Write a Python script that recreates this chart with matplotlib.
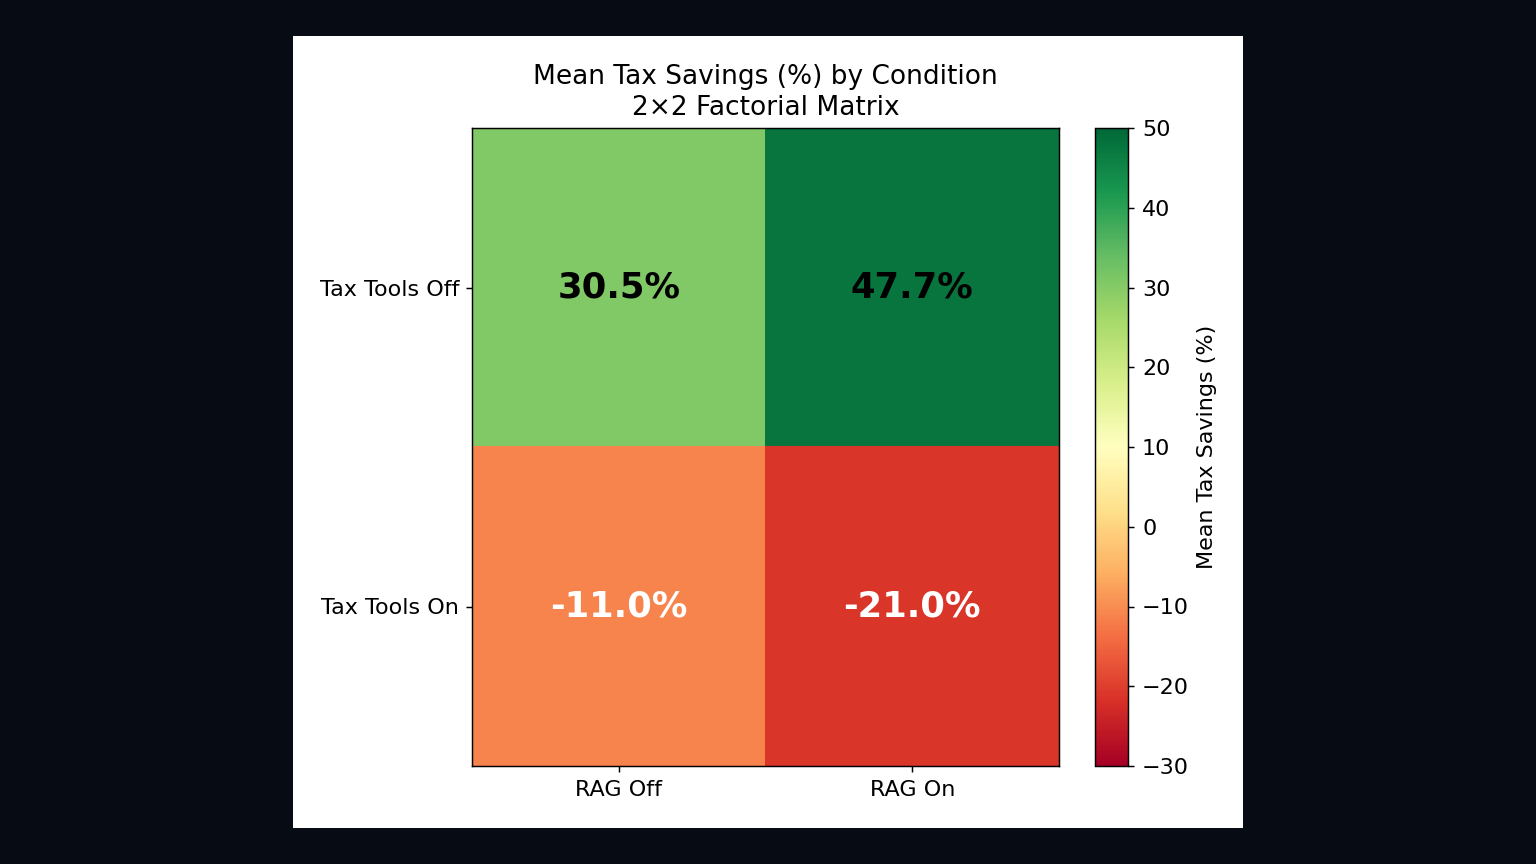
import numpy as np
import matplotlib
matplotlib.use("Agg")
import matplotlib.pyplot as plt
from matplotlib.patches import Rectangle

# data
row_labels = ["Tax Tools Off", "Tax Tools On"]
col_labels = ["RAG Off", "RAG On"]
savings = np.array([[30.5, 47.7],
                    [-11.0, -21.0]])

W, H = 1536, 864
fig = plt.figure(figsize=(W / 100, H / 100), dpi=100, facecolor="#070b14")

# white panel behind the chart
fig.patches.append(Rectangle((293 / W, 1 - 828 / H), 950 / W, 792 / H,
                             transform=fig.transFigure, facecolor="white",
                             edgecolor="none", zorder=-5))

ax = fig.add_axes([472 / W, 1 - 766 / H, 587 / W, 638 / H])
cax = fig.add_axes([1095 / W, 1 - 766 / H, 33 / W, 638 / H])

im = ax.imshow(savings, cmap="RdYlGn", vmin=-30, vmax=50, aspect="auto")

ax.set_xticks(range(len(col_labels)))
ax.set_xticklabels(col_labels, fontsize=16)
ax.set_yticks(range(len(row_labels)))
ax.set_yticklabels(row_labels, fontsize=16)
ax.tick_params(length=4.6, width=1.05, pad=4.5)
ax.tick_params(axis="x", pad=5.5)
for s in ax.spines.values():
    s.set_linewidth(1.05)
ax.set_title("Mean Tax Savings (%) by Condition\n2×2 Factorial Matrix",
             fontsize=19, pad=9.5, linespacing=1.25)

for i in range(savings.shape[0]):
    for j in range(savings.shape[1]):
        v = savings[i, j]
        ax.text(j, i, f"{v:.1f}%", ha="center", va="center",
                fontsize=25.5, fontweight="bold",
                color="black" if v > 0 else "white")

cb = fig.colorbar(im, cax=cax)
cb.set_label("Mean Tax Savings (%)", fontsize=16, labelpad=6)
cb.ax.tick_params(labelsize=16, length=4.6, width=1.05, pad=5.5)
cb.outline.set_linewidth(1.05)

fig.savefig("out.png", dpi=100, facecolor=fig.get_facecolor())
